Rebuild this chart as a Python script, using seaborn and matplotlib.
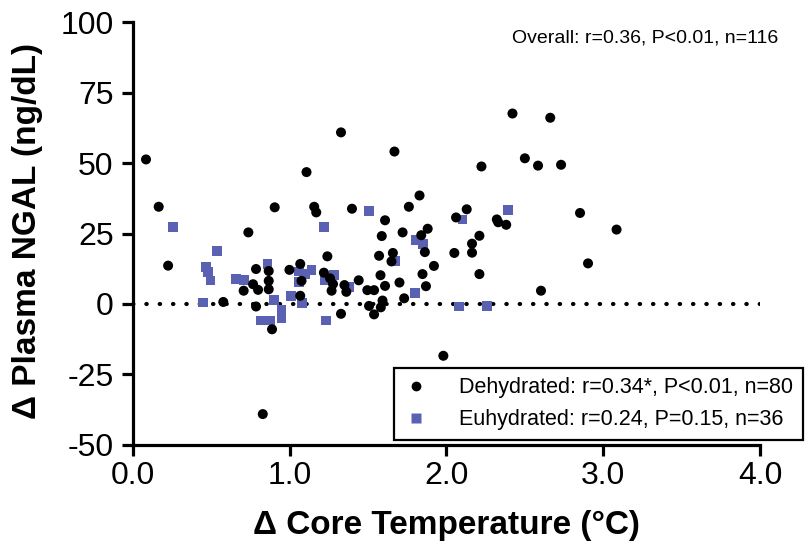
import numpy as np
import pandas as pd
import matplotlib
matplotlib.use("Agg")
import matplotlib.pyplot as plt
import seaborn as sns
from matplotlib.lines import Line2D

# --- 数据 ---
dehyd_temp = [0.083, 0.164, 0.224, 1.327, 1.107, 0.904, 1.156, 1.169, 0.736, 1.240,
              0.785, 0.866, 0.998, 1.067, 1.075, 0.866, 0.766, 0.798, 0.706, 0.866,
              0.576, 0.785, 1.067, 0.887, 1.218, 1.257, 1.276, 1.267, 1.349, 1.361,
              1.327, 1.668, 2.421, 2.662, 2.500, 2.584, 2.223, 1.828, 1.760, 1.397,
              1.608, 2.129, 2.061, 2.321, 2.330, 2.381, 1.587, 1.720, 1.880, 1.839,
              2.210, 2.163, 2.163, 2.050, 1.862, 1.658, 1.649, 1.570, 1.920, 2.210,
              1.847, 1.579, 1.440, 1.608, 1.700, 1.869, 1.495, 1.538, 1.730, 1.592,
              1.506, 1.581, 1.538, 2.603, 2.731, 2.852, 3.085, 2.903, 1.980, 0.828]
dehyd_ngal = [51.3, 34.5, 13.6, 60.9, 46.8, 34.3, 34.5, 32.5, 25.4, 16.9,
              12.4, 11.7, 12.1, 14.2, 8.2, 8.2, 7.0, 5.0, 4.7, 5.2,
              0.7, -0.9, 2.9, -9.0, 11.1, 9.1, 7.1, 4.7, 6.7, 4.3,
              -3.5, 54.1, 67.6, 66.1, 51.7, 49.1, 48.8, 38.5, 34.5, 33.8,
              29.7, 33.6, 30.7, 30.0, 29.0, 28.1, 24.1, 25.4, 26.7, 24.4,
              24.2, 21.4, 18.2, 18.1, 18.4, 18.1, 15.1, 17.1, 13.5, 10.6,
              10.6, 10.2, 8.4, 6.4, 7.6, 6.3, 4.9, 4.9, 2.0, 1.2,
              -0.7, -1.2, -3.7, 4.7, 49.4, 32.3, 26.4, 14.4, -18.4, -39.1]

euhyd_temp = [0.254, 0.535, 0.467, 0.476, 0.495, 0.655, 0.706, 0.446, 0.858, 1.218,
              1.058, 1.096, 1.139, 1.058, 0.898, 0.947, 0.947, 1.007, 1.080, 0.817,
              0.877, 1.229, 1.282, 1.222, 1.508, 2.102, 2.391, 1.807, 1.850, 1.672,
              1.376, 1.800, 2.080, 2.259]
euhyd_ngal = [27.4, 18.8, 13.0, 11.3, 8.3, 8.9, 8.6, 0.5, 14.3, 27.4,
              11.5, 10.5, 12.1, 7.7, 1.4, -2.1, -5.1, 2.8, 0.2, -5.9,
              -5.9, -5.9, 10.3, 8.3, 33.0, 30.0, 33.3, 22.7, 21.4, 15.1,
              5.9, 4.0, -0.9, -0.6]

x_ticks = [0, 1, 2, 3, 4]
x_tick_labels = ["0.0", "1.0", "2.0", "3.0", "4.0"]
y_ticks = [-50, -25, 0, 25, 50, 75, 100]

label_dehyd = "Dehydrated: r=0.34*, P<0.01, n=80"
label_euhyd = "Euhydrated: r=0.24, P=0.15, n=36"
overall_text = "Overall: r=0.36, P<0.01, n=116"

BLUE = "#5a61b2"

df_d = pd.DataFrame({"temp": dehyd_temp, "ngal": dehyd_ngal})
df_e = pd.DataFrame({"temp": euhyd_temp, "ngal": euhyd_ngal})

sns.set_style("ticks")
plt.rcParams['font.family'] = ['Liberation Sans', 'DejaVu Sans']
plt.rcParams['axes.unicode_minus'] = False
for k in ['text.color', 'axes.labelcolor', 'xtick.color', 'ytick.color', 'axes.edgecolor']:
    plt.rcParams[k] = 'black'

fig = plt.figure(figsize=(8.09, 5.56), dpi=100)
ax = fig.add_axes([0.1644, 0.2, 0.775, 0.76])

# 零线
ax.axhline(0, color="black", linestyle=(0, (0.1, 3.1)), linewidth=3,
           dash_capstyle="round", zorder=1)

# 先画蓝色方块，再画黑点（黑点在上层）
sns.scatterplot(data=df_e, x="temp", y="ngal", marker="s", s=50, color=BLUE,
                edgecolor="none", ax=ax, zorder=2, clip_on=False)
sns.scatterplot(data=df_d, x="temp", y="ngal", marker="o", s=52, color="black",
                edgecolor="none", ax=ax, zorder=3, clip_on=False)

ax.set_xlim(0, 4)
ax.set_ylim(-50, 100)
ax.set_xticks(x_ticks)
ax.set_xticklabels(x_tick_labels)
ax.set_yticks(y_ticks)

for side in ["top", "right"]:
    ax.spines[side].set_visible(False)
for side in ["left", "bottom"]:
    ax.spines[side].set_linewidth(2.3)
ax.tick_params(axis="both", direction="out", length=8, width=2.3, labelsize=23)
ax.tick_params(axis="y", pad=6)
ax.tick_params(axis="x", pad=4)

ax.set_xlabel("\u0394 Core Temperature (\u00b0C)", fontsize=24, fontweight="bold")
ax.set_ylabel("\u0394 Plasma NGAL (ng/dL)", fontsize=24, fontweight="bold")
ax.xaxis.set_label_coords(0.5, -0.155)
ax.yaxis.set_label_coords(-0.143, 0.505)

fig.text(0.962, 0.932, overall_text, ha="right", va="center", fontsize=14)

handles = [
    Line2D([], [], marker="o", linestyle="none", color="black", markersize=6),
    Line2D([], [], marker="s", linestyle="none", color=BLUE, markeredgecolor="none", markersize=6.5),
]
leg = ax.legend(handles, [label_dehyd, label_euhyd], loc="lower left",
                bbox_to_anchor=(0.416, 0.012), frameon=True, fancybox=False,
                fontsize=15.5, handletextpad=1.4, borderpad=0.45, labelspacing=0.5,
                handlelength=1.2, borderaxespad=0)
leg.get_frame().set_edgecolor("black")
leg.get_frame().set_linewidth(1.6)
leg.get_frame().set_alpha(1)

fig.savefig("out.png", dpi=100)
